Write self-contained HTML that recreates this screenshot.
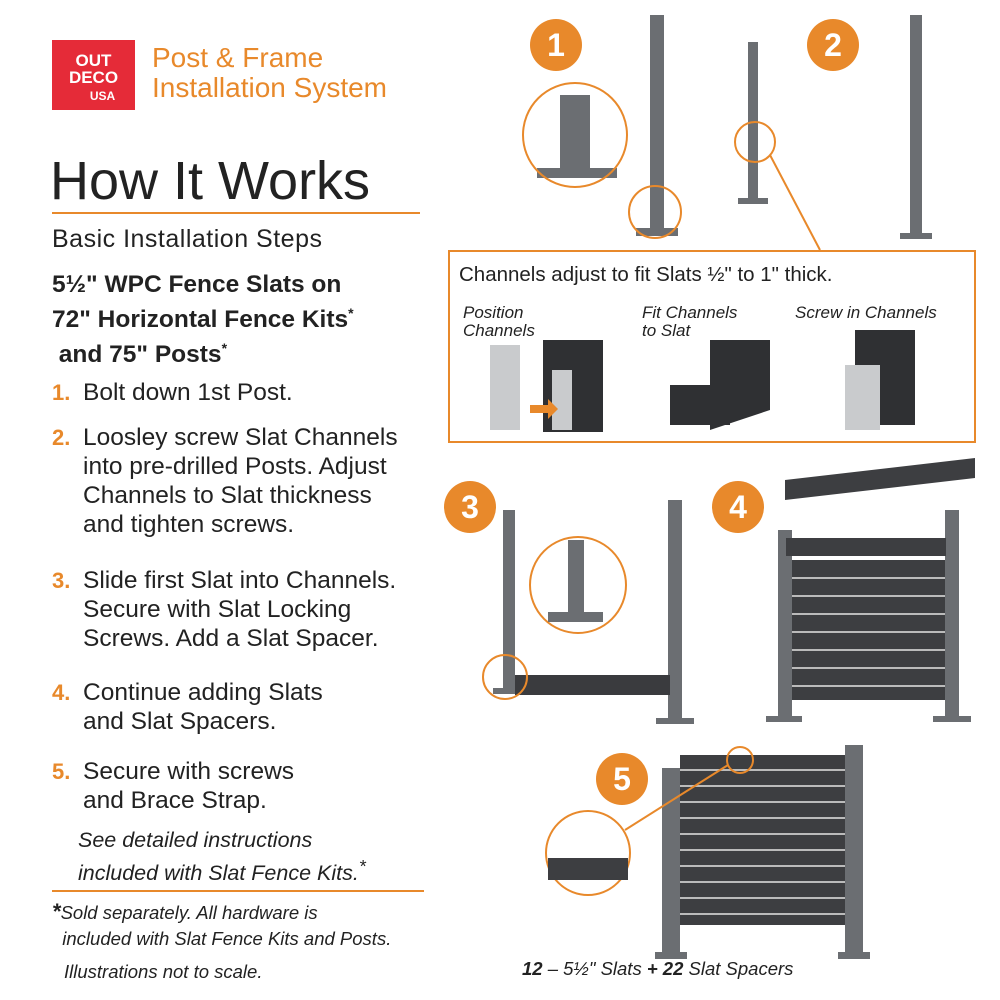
<!DOCTYPE html>
<html><head><style>
body{margin:0;width:1000px;height:1000px;background:#fff;position:relative;overflow:hidden;font-family:"Liberation Sans",sans-serif;color:#222}
.a{position:absolute;white-space:nowrap}
.or{color:#e8892b}
.n{position:absolute;color:#e8892b;font-weight:bold;font-size:22px}
.s{position:absolute;font-size:24.5px;line-height:29px;color:#222}
.c{position:absolute;width:52px;height:52px;border-radius:50%;background:#e8892b;color:#fff;font-weight:bold;font-size:32px;text-align:center;line-height:52px}
</style></head><body>
<div class="a" style="left:52px;top:40px;width:83px;height:70px;background:#e52b38;color:#fff;font-weight:bold;text-align:center;font-size:17px;line-height:17px;padding-top:12px;box-sizing:border-box">OUT<br>DECO<br><span style="font-size:12px;padding-left:18px">USA</span></div>
<div class="a or" style="left:152px;top:43px;font-size:28px;line-height:30px">Post &amp; Frame<br>Installation System</div>
<div class="a" style="left:50px;top:150px;font-size:54px;font-weight:300;color:#222">How It Works</div>
<div class="a" style="left:52px;top:212px;width:368px;height:2px;background:#e8892b"></div>
<div class="a" style="left:52px;top:225px;font-size:25px;letter-spacing:0.5px">Basic Installation Steps</div>
<div class="a" style="left:52px;top:271px;font-size:24.5px;font-weight:bold;line-height:28px">5½" WPC Fence Slats on<br>72" Horizontal Fence Kits<sup style="font-size:14px">*</sup><br>&nbsp;and 75" Posts<sup style="font-size:14px">*</sup></div>
<div class="n" style="left:52px;top:380px">1.</div><div class="s" style="left:83px;top:378px">Bolt down 1st Post.</div>
<div class="n" style="left:52px;top:425px">2.</div><div class="s" style="left:83px;top:423px">Loosley screw Slat Channels<br>into pre-drilled Posts. Adjust<br>Channels to Slat thickness<br>and tighten screws.</div>
<div class="n" style="left:52px;top:568px">3.</div><div class="s" style="left:83px;top:566px">Slide first Slat into Channels.<br>Secure with Slat Locking<br>Screws. Add a Slat Spacer.</div>
<div class="n" style="left:52px;top:680px">4.</div><div class="s" style="left:83px;top:678px">Continue adding Slats<br>and Slat Spacers.</div>
<div class="n" style="left:52px;top:759px">5.</div><div class="s" style="left:83px;top:757px">Secure with screws<br>and Brace Strap.</div>
<div class="a" style="left:78px;top:827px;font-size:21.5px;font-style:italic;line-height:26px">See detailed instructions<br>included with Slat Fence Kits.<sup>*</sup></div>
<div class="a" style="left:52px;top:890px;width:372px;height:2px;background:#e8892b"></div>
<div class="a" style="left:52px;top:899px;font-size:18.5px;font-style:italic;line-height:26px"><b style="font-size:22px">*</b>Sold separately. All hardware is<br>&nbsp;&nbsp;included with Slat Fence Kits and Posts.</div>
<div class="a" style="left:64px;top:961px;font-size:18.5px;font-style:italic">Illustrations not to scale.</div>

<div class="c" style="left:530px;top:19px">1</div>
<div class="c" style="left:807px;top:19px">2</div>
<div class="c" style="left:444px;top:481px">3</div>
<div class="c" style="left:712px;top:481px">4</div>
<div class="c" style="left:596px;top:753px">5</div>

<svg class="a" style="left:0;top:0" width="1000" height="1000">
<g fill="#6b6e72">
<rect x="650" y="15" width="14" height="215"/><rect x="636" y="228" width="42" height="8"/>
<rect x="748" y="42" width="10" height="158"/><rect x="738" y="198" width="30" height="6"/>
<rect x="910" y="15" width="12" height="220"/><rect x="900" y="233" width="32" height="6"/>
<rect x="560" y="95" width="30" height="75"/><rect x="537" y="168" width="80" height="10"/>
</g>
<circle cx="575" cy="135" r="52" fill="none" stroke="#e8892b" stroke-width="2"/>
<circle cx="655" cy="212" r="26" fill="none" stroke="#e8892b" stroke-width="2"/>
<circle cx="755" cy="142" r="20" fill="none" stroke="#e8892b" stroke-width="2"/>
<line x1="770" y1="155" x2="820" y2="250" stroke="#e8892b" stroke-width="2"/>
<rect x="449" y="251" width="526" height="191" fill="none" stroke="#e8892b" stroke-width="2"/>
<text x="459" y="281" font-size="20.5" fill="#222" font-family="Liberation Sans">Channels adjust to fit Slats ½" to 1" thick.</text>
<g font-size="17" font-style="italic" fill="#222" font-family="Liberation Sans">
<text x="463" y="318">Position</text><text x="463" y="336">Channels</text>
<text x="642" y="318">Fit Channels</text><text x="642" y="336">to Slat</text>
<text x="795" y="318">Screw in Channels</text></g>
<g fill="#2f3033"><path d="M543 340h60v92h-60z"/><path d="M710 340h60v70l-60 20z"/><path d="M855 330h60v95h-60z"/><rect x="670" y="385" width="60" height="40"/></g>
<g fill="#c9cbcd"><rect x="490" y="345" width="30" height="85"/><rect x="552" y="370" width="20" height="60"/><rect x="845" y="365" width="35" height="65"/></g>
<path d="M530 405h18v-6l10 10-10 10v-6h-18z" fill="#e8892b"/>
<g fill="#6b6e72"><rect x="503" y="510" width="12" height="180"/><rect x="493" y="688" width="30" height="6"/>
<rect x="668" y="500" width="14" height="220"/><rect x="656" y="718" width="38" height="6"/>
<rect x="515" y="675" width="155" height="20" fill="#3a3b3e"/>
<rect x="778" y="530" width="14" height="188"/><rect x="766" y="716" width="36" height="6"/>
<rect x="945" y="510" width="14" height="208"/><rect x="933" y="716" width="38" height="6"/>
<rect x="662" y="768" width="18" height="186"/><rect x="655" y="952" width="32" height="7"/>
<rect x="845" y="745" width="18" height="210"/><rect x="838" y="952" width="32" height="7"/></g>
<g fill="#3d3e41"><rect x="792" y="560" width="153" height="140"/><rect x="786" y="538" width="160" height="18"/>
<path d="M785 480l190-22v20l-190 22z"/>
<rect x="680" y="755" width="165" height="170"/></g>
<g stroke="#bbb" stroke-width="2">
<line x1="792" y1="578" x2="945" y2="578"/><line x1="792" y1="596" x2="945" y2="596"/><line x1="792" y1="614" x2="945" y2="614"/><line x1="792" y1="632" x2="945" y2="632"/><line x1="792" y1="650" x2="945" y2="650"/><line x1="792" y1="668" x2="945" y2="668"/><line x1="792" y1="686" x2="945" y2="686"/>
<line x1="680" y1="770" x2="845" y2="770"/><line x1="680" y1="786" x2="845" y2="786"/><line x1="680" y1="802" x2="845" y2="802"/><line x1="680" y1="818" x2="845" y2="818"/><line x1="680" y1="834" x2="845" y2="834"/><line x1="680" y1="850" x2="845" y2="850"/><line x1="680" y1="866" x2="845" y2="866"/><line x1="680" y1="882" x2="845" y2="882"/><line x1="680" y1="898" x2="845" y2="898"/><line x1="680" y1="914" x2="845" y2="914"/></g>
<circle cx="578" cy="585" r="48" fill="#fff" stroke="#e8892b" stroke-width="2"/>
<rect x="568" y="540" width="16" height="80" fill="#6b6e72"/><rect x="548" y="612" width="55" height="10" fill="#6b6e72"/>
<circle cx="505" cy="677" r="22" fill="none" stroke="#e8892b" stroke-width="2"/>
<circle cx="588" cy="853" r="42" fill="#fff" stroke="#e8892b" stroke-width="2"/>
<rect x="548" y="858" width="80" height="22" fill="#3d3e41"/>
<circle cx="740" cy="760" r="13" fill="none" stroke="#e8892b" stroke-width="2"/>
<line x1="625" y1="830" x2="728" y2="765" stroke="#e8892b" stroke-width="2"/>
<text x="522" y="975" font-size="18.5" font-style="italic" fill="#222" font-family="Liberation Sans"><tspan font-weight="bold">12</tspan> – 5½" Slats <tspan font-weight="bold">+ 22</tspan> Slat Spacers</text>
</svg>
</body></html>
